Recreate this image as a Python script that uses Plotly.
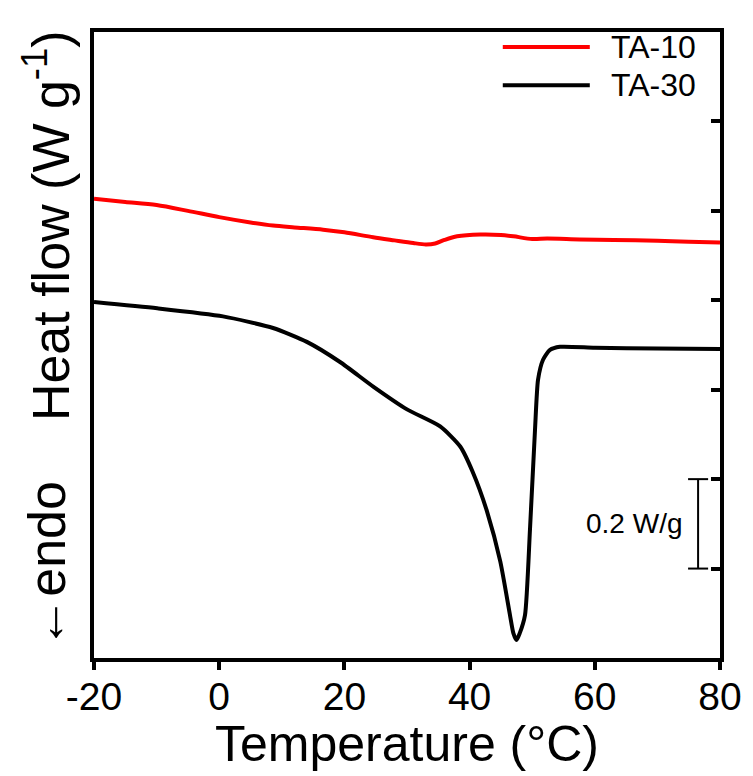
import plotly.graph_objects as go

# ---- data ----
t_ta10 = [-20, -15, -10, -5, 0, 5, 8.6, 12, 16.6, 20, 24.6, 28, 31, 33, 34.5, 36, 38, 41.7,
          45, 47, 50, 52.4, 57.6, 63, 70, 75, 80]
hf_ta10 = [1.027, 1.020, 1.013, 1.000, 0.986, 0.974, 0.967, 0.963, 0.958, 0.952, 0.941, 0.934,
           0.928, 0.925, 0.927, 0.935, 0.943, 0.947, 0.946, 0.943, 0.937, 0.938, 0.936, 0.935,
           0.933, 0.931, 0.929]

t_ta30 = [-20, -9.9, 0.6, 8.6, 14.0, 19.3, 24.6, 30.0, 35.3, 38.5, 40.5, 42.8, 44.9, 46.45,
          47.0, 47.5, 48.0, 48.85, 49.65, 50.45, 50.93, 51.73, 52.84, 54.44, 60, 70, 80]
hf_ta30 = [0.796, 0.782, 0.764, 0.738, 0.707, 0.662, 0.607, 0.556, 0.518, 0.473, 0.416, 0.327,
           0.216, 0.096, 0.055, 0.040, 0.055, 0.096, 0.289, 0.511, 0.622, 0.667, 0.689, 0.696,
           0.694, 0.692, 0.691]

x_ticks = [-20, 0, 20, 40, 60, 80]
x_ticktext = ["-20", "0", "20", "40", "60", "80"]
y_ticks = [0.2, 0.4, 0.6, 0.8, 1.0, 1.2]
series_names = ["TA-10", "TA-30"]
series_colors = ["#ff0000", "#000000"]
scale_bar = [0.2, 0.4]   # 0.2 W/g
scale_x = 76.5

FONT = "Liberation Sans, Arial, sans-serif"

fig = go.Figure()
fig.add_trace(go.Scatter(x=t_ta10, y=hf_ta10, mode="lines", name=series_names[0],
                         line=dict(color=series_colors[0], width=4, shape="spline", smoothing=0.8),
                         showlegend=False))
fig.add_trace(go.Scatter(x=t_ta30, y=hf_ta30, mode="lines", name=series_names[1],
                         line=dict(color=series_colors[1], width=4, shape="spline", smoothing=0.6),
                         showlegend=False))

# scale bar (data coordinates)
fig.add_shape(type="line", x0=scale_x, x1=scale_x, y0=scale_bar[0], y1=scale_bar[1],
              line=dict(color="black", width=2))
for yv in scale_bar:
    fig.add_shape(type="line", x0=scale_x - 1.6, x1=scale_x + 1.6, y0=yv, y1=yv,
                  line=dict(color="black", width=2))
fig.add_annotation(x=scale_x - 2.3, y=sum(scale_bar) / 2, text="0.2 W/g", showarrow=False,
                   xanchor="right", yanchor="middle", font=dict(family=FONT, size=28, color="black"))

# manual legend
leg_y = [0.976, 0.915]
for name, col, yy in zip(series_names, series_colors, leg_y):
    fig.add_shape(type="line", xref="paper", yref="paper", x0=0.653, x1=0.792, y0=yy, y1=yy,
                  line=dict(color=col, width=4))
    fig.add_annotation(xref="paper", yref="paper", x=0.823, y=yy, text=name, showarrow=False,
                       xanchor="left", yanchor="middle", font=dict(family=FONT, size=32, color="black"))

# y title pieces
fig.add_annotation(xref="paper", yref="paper", x=-0.075, y=0.69, text="Heat flow (W g<sup>-1</sup>)",
                   textangle=-90, showarrow=False, xanchor="center", yanchor="middle",
                   font=dict(family=FONT, size=52, color="black"))
fig.add_annotation(xref="paper", yref="paper", x=-0.075, y=0.149, text="\u2190endo",
                   textangle=-90, showarrow=False, xanchor="center", yanchor="middle",
                   font=dict(family=FONT, size=52, color="black"))
# x title
fig.add_annotation(xref="paper", yref="paper", x=0.5, y=-0.137, text="Temperature (\u00b0C)",
                   showarrow=False, xanchor="center", yanchor="middle",
                   font=dict(family=FONT, size=50, color="black"))

fig.update_layout(
    width=753, height=776,
    margin=dict(l=94, r=33, t=32, b=118),
    paper_bgcolor="white", plot_bgcolor="white",
    xaxis=dict(range=[-20, 80], tickvals=x_ticks, ticktext=x_ticktext, ticks="outside",
               ticklen=8, tickwidth=4, ticklabelstandoff=-7,
               tickcolor="black", showline=True, linecolor="black", linewidth=4, mirror=True,
               showgrid=False, zeroline=False,
               tickfont=dict(family=FONT, size=39, color="black")),
    yaxis=dict(range=[0, 1.4], tickvals=y_ticks, side="right", ticks="inside", ticklen=9,
               tickwidth=4, tickcolor="black", showticklabels=False, showline=True,
               linecolor="black", linewidth=4, mirror=True, showgrid=False, zeroline=False),
)

fig.write_html("out.html")
